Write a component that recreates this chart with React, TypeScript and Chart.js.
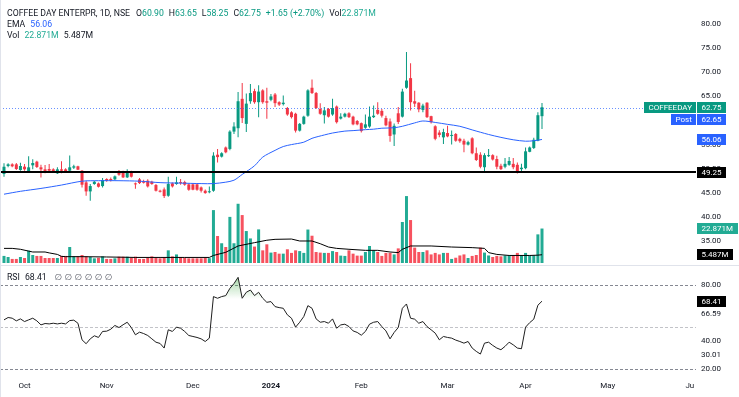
import React, { useEffect, useRef } from 'react';
import { Chart, registerables } from 'chart.js';

Chart.register(...registerables);

const FONT = 'Roboto, "Noto Sans", "DejaVu Sans", sans-serif';
const TEXT = '#131722';
const UP = '#089981';
const DOWN = '#f23645';
const VOL_UP = '#22ab94';
const VOL_DOWN = '#f7525f';
const EMA_COLOR = '#2962ff';
const POST_COLOR = '#2962ff';

// ---------- data ----------
const opens = [48.9,50.56,50.9,50.9,49.72,50.42,49.44,50.69,51.46,50.28,49.86,49.93,49.86,49.03,49.86,49.86,49.58,50.21,50.49,49.58,47.15,45.28,46.81,46.94,46.39,47.85,47.85,47.78,49.17,49.24,48.19,49.24,46.88,47.78,47.43,47.5,47.29,46.6,45.42,45.69,44.38,46.94,46.81,47.15,47.22,46.74,46.74,46.74,46.11,45.42,45.1,45.42,52.9,52.5,54.4,54.1,57.7,58.4,64.5,59.3,64.0,66.1,63.8,66.25,64.0,64.3,65.4,63.8,63.4,62.6,61.7,61.4,57.9,59.3,61.0,66.8,65.7,62.4,61.1,62.4,61.25,62.9,60.4,60.8,61.5,60.8,59.9,59.45,58.5,58.75,60.7,62.2,62.0,60.5,59.8,57.1,61.5,60.8,66.8,68.8,64.0,63.7,62.2,63.7,60.9,58.8,57.5,56.5,57.4,56.8,57.2,56.2,55.8,55.0,56.3,53.2,52.9,50.3,52.6,52.8,52.0,50.6,50.4,50.8,51.0,50.8,49.9,50.1,53.5,54.3,55.8,60.9];
const highs = [51.1,51.11,51.11,51.2,51.25,50.97,52.57,51.94,51.67,50.83,50.76,50.97,50.1,50.28,51.53,50.1,52.71,50.83,50.62,49.72,47.5,46.81,47.5,47.15,48.06,48.0,48.19,48.6,49.72,49.58,49.86,49.58,47.15,48.06,47.71,47.78,47.5,46.81,45.63,46.11,48.33,47.15,48.33,47.85,47.5,46.94,46.9,46.94,46.32,45.7,46.3,53.4,54.1,53.4,54.6,58.0,59.65,65.9,67.8,65.6,67.6,66.6,67.3,66.5,66.8,65.5,65.7,64.0,65.2,62.8,61.9,61.6,59.5,61.0,66.5,68.5,65.9,63.6,62.8,62.6,64.5,63.1,61.5,61.6,61.7,61.0,60.1,59.6,61.25,62.9,63.1,63.8,62.4,61.0,60.4,59.4,62.8,66.6,74.2,71.9,66.2,63.8,63.5,63.8,61.0,59.0,58.0,58.3,58.9,57.9,57.4,56.4,56.2,55.8,56.5,54.4,53.4,53.2,54.1,53.0,52.7,51.0,52.2,52.4,52.2,51.3,51.0,54.4,54.6,56.4,61.7,63.65];
const lows = [48.3,50.28,50.28,49.7,49.58,49.58,49.37,49.86,50.14,48.19,49.03,49.24,49.3,48.89,49.03,49.3,49.5,49.93,49.72,46.11,44.37,43.33,46.67,46.11,46.11,47.3,47.36,47.6,48.54,48.06,48.06,48.19,45.83,46.81,46.94,46.11,46.67,45.28,45.07,43.89,44.17,46.11,46.67,46.67,46.46,45.42,45.5,45.42,45.07,44.8,44.9,45.2,51.3,52.3,53.2,53.8,57.2,56.5,59.5,57.6,63.5,63.5,60.7,63.5,60.35,64.0,62.8,63.0,63.1,61.0,60.4,57.5,57.7,59.1,60.8,65.5,62.4,61.2,59.4,60.6,61.0,59.4,60.2,60.6,60.5,59.0,59.0,57.5,58.3,58.5,60.5,61.2,60.6,58.8,55.6,54.7,59.3,60.6,66.6,62.1,62.8,61.7,61.7,60.5,59.4,55.9,56.5,55.1,56.5,55.0,55.6,55.4,53.4,54.8,53.0,51.6,50.1,49.2,52.4,51.7,49.9,49.7,50.1,50.6,49.9,49.0,49.2,49.9,53.4,54.1,55.7,58.25];
const closes = [50.4,50.9,50.49,49.93,50.56,49.86,50.28,51.18,50.35,49.86,49.44,49.58,49.44,49.86,49.58,49.51,50.28,50.49,49.79,46.67,45.28,46.39,47.29,46.25,47.64,47.5,47.64,48.4,48.75,48.19,49.44,48.33,46.74,47.01,47.08,46.32,46.81,45.42,45.21,44.31,46.81,46.32,47.15,47.01,46.67,45.63,45.63,45.63,45.42,44.93,45.3,52.71,52.4,53.2,53.4,57.7,58.75,64.0,60.5,63.5,65.7,63.8,66.0,63.8,63.7,65.0,63.6,63.3,63.7,61.25,60.7,57.9,59.3,60.8,66.25,65.7,62.6,61.4,62.1,60.8,62.6,59.65,60.8,61.4,60.7,59.2,59.2,57.8,59.2,60.8,61.0,61.4,61.0,59.0,56.8,58.9,59.7,66.0,68.3,63.8,63.5,62.3,63.1,60.7,59.65,56.2,57.0,57.6,56.7,57.0,55.8,55.7,55.0,55.5,53.2,51.8,50.4,52.8,52.8,51.9,50.4,49.9,51.0,51.6,50.3,49.2,50.2,53.6,54.4,56.0,61.1,62.75];
// volume in millions
const volumes = [4.7,4.0,2.7,2.7,4.0,3.3,8.2,5.3,4.7,4.7,3.3,3.3,3.3,3.3,4.7,4.7,10.6,4.4,4.4,5.3,4.4,4.0,3.1,3.5,4.4,2.7,2.7,3.1,4.2,4.2,4.2,3.5,4.2,2.7,2.7,3.5,4.4,3.5,3.1,3.5,8.4,4.4,5.7,4.0,3.5,3.1,3.1,3.1,3.1,3.5,3.2,35.1,17.9,13.1,10.6,30.6,13.1,39.3,31.8,21.2,16.3,10.9,22.3,8.4,12.4,6.9,7.3,6.2,6.2,9.1,6.7,8.4,7.9,6.7,22.2,18.1,7.3,6.9,6.7,6.7,7.9,7.3,4.9,4.7,8.4,6.2,4.9,4.9,7.3,11.3,8.4,7.3,4.7,6.7,6.7,5.7,9.7,27.2,44.4,28.5,10.2,7.3,7.3,8.4,5.7,6.7,5.7,6.7,6.7,2.7,3.5,5.0,5.7,3.3,4.7,5.3,10.2,6.9,5.0,4.0,4.7,4.4,5.0,5.0,5.0,6.7,5.0,6.7,5.0,5.0,19.0,22.871];
const rsiValues = [55.0,56.7,56.2,54.3,55.7,53.8,55.0,56.2,54.3,51.4,52.4,52.1,52.6,52.1,52.6,52.1,54.5,54.8,52.6,40.7,37.9,41.4,43.6,42.4,46.7,46.9,48.3,51.0,49.5,51.5,53.3,49.5,44.3,46.2,45.2,43.8,41.4,39.0,38.1,34.8,47.9,46.7,49.8,49.0,46.7,43.8,43.1,42.4,41.4,39.5,41.9,71.7,70.5,71.7,72.4,77.6,81.0,85.5,70.5,74.8,76.4,72.4,74.8,70.5,67.6,68.1,64.5,63.8,63.3,58.6,56.2,49.8,53.3,57.4,65.2,63.3,55.7,53.3,53.8,52.6,55.7,49.0,51.4,51.9,50.2,47.1,46.0,44.0,46.7,51.9,53.3,53.8,50.2,47.1,41.4,46.0,49.5,63.3,66.4,56.2,55.5,52.6,53.8,50.2,47.9,45.5,40.7,43.1,42.4,41.9,40.5,39.5,38.3,39.5,34.8,32.4,30.5,38.3,39.0,36.7,34.8,33.6,36.0,39.0,37.1,34.8,34.3,49.8,53.0,55.5,65.5,68.41];
const emaIdx = [0,4,9,14,19,23,28,33,38,43,48,51,54,56,58,61,63,66,68,70,73,75,78,80,83,85,88,90,92,95,97,100,102,105,108,111,114,118,121,124,127,129,131];
const emaVal = [44.7,45.3,45.9,46.6,47.4,47.5,47.5,47.4,47.1,47.0,46.9,46.9,47.2,47.6,48.8,50.6,52.4,53.8,54.6,55.0,55.5,56.3,57.0,57.4,57.8,57.9,58.1,58.2,58.4,58.5,58.8,59.5,59.9,59.6,59.2,58.8,58.05,57.1,56.5,56.0,55.7,55.8,56.06];
const volMaIdx = [0,2,4,6,7,10,11,13,14,15,19,25,32,38,44,50,51,54,57,61,64,66,70,72,75,77,79,81,84,88,91,94,96,97,99,104,109,114,117,118,120,123,128,130,131];
const volMaVal = [9.7,9.7,9.1,7.9,7.3,7.3,6.7,5.7,4.4,4.2,4.2,4.0,3.7,3.7,3.7,3.7,5.0,7.1,11.3,13.5,15.1,15.7,15.9,14.6,14.6,12.8,10.6,9.7,9.1,8.4,8.4,7.3,6.9,9.1,11.3,11.3,10.6,10.2,9.7,6.9,5.7,5.0,5.0,5.2,5.487];
const monthTickIdx = [5, 25, 46, 65, 87, 108, 127, 147, 167];
const monthTickLabels = ['Oct', 'Nov', 'Dec', '2024', 'Feb', 'Mar', 'Apr', 'May', 'Ju'];
const priceTicks = [35, 40, 45, 50, 55, 60, 65, 70, 75, 80];
const rsiTicks = [20, 40, 80];
const rsiLevels = [80, 50, 20];
const symbolName = 'COFFEEDAY';
const postPrice = 62.65;
const levelPrice = 49.25;
const rsiMaValue = 66.59;
const rsiLowValue = 30.01;

// ---------- layout constants ----------
const W = 739;
const MAIN_H = 265;
const RSI_H = 132;
const AXIS_W = 43;
const TIME_H = 25;
const X_MIN = -0.974;
const X_MAX = 168.5;
const PRICE_MIN = 30;
const PRICE_MAX = 85.02;
const VOL_MIN = -1.327;
const VOL_MAX = 174.5;
const RSI_MIN = 17.63;
const RSI_MAX = 94.34;
const HEAD_FONT_PX = 8.7;

const N = closes.length;
const last = N - 1;
const candleColors = closes.map((c, i) => (c >= opens[i] ? UP : DOWN));
const volColors = closes.map((c, i) => (c >= opens[i] ? VOL_UP : VOL_DOWN));
const fmtM = (v: number) => v.toFixed(3) + 'M';

function drawBox(ctx: CanvasRenderingContext2D, x: number, yc: number, text: string, bg: string, side: 'left' | 'right') {
  const w = Math.round(ctx.measureText(text).width + 9);
  const h = 11;
  const left = side === 'left' ? x : x - w;
  const top = Math.round(yc - h / 2);
  ctx.fillStyle = bg;
  ctx.fillRect(left, top, w, h);
  ctx.fillStyle = '#ffffff';
  ctx.textAlign = 'left';
  ctx.textBaseline = 'middle';
  ctx.fillText(text, left + 4.5, top + h / 2 + 0.5);
  return { top, bottom: top + h };
}

const fitRight = (scale: any) => {
  scale.width = AXIS_W;
  scale.paddingTop = 0;
  scale.paddingBottom = 0;
};

const mainPlugin = {
  id: 'mainOverlay',
  afterDatasetsDraw(chart: any) {
    const { ctx, chartArea: a, scales } = chart;
    const y = scales.y;
    ctx.save();
    ctx.beginPath();
    ctx.rect(a.left, a.top, a.right - a.left, a.bottom - a.top);
    ctx.clip();
    const yp = Math.round(y.getPixelForValue(postPrice)) + 0.5;
    ctx.setLineDash([1, 2]);
    ctx.strokeStyle = 'rgba(41,98,255,0.7)';
    ctx.lineWidth = 1;
    ctx.beginPath();
    ctx.moveTo(a.left, yp);
    ctx.lineTo(a.right, yp);
    ctx.stroke();
    ctx.setLineDash([]);
    ctx.strokeStyle = '#000000';
    ctx.lineWidth = 2;
    const yl = Math.round(y.getPixelForValue(levelPrice));
    ctx.beginPath();
    ctx.moveTo(a.left, yl);
    ctx.lineTo(a.right, yl);
    ctx.stroke();
    ctx.restore();
  },
  afterDraw(chart: any) {
    const { ctx, chartArea: a, scales } = chart;
    const y = scales.y;
    const yv = scales.yv;
    ctx.save();
    ctx.font = `8px ${FONT}`;
    const r = a.right;
    const yc = y.getPixelForValue(closes[last]) + 0.5;
    drawBox(ctx, r + 1, yc, closes[last].toFixed(2), UP, 'left');
    drawBox(ctx, r, yc, symbolName, UP, 'right');
    drawBox(ctx, r + 1, yc + 11.5, postPrice.toFixed(2), POST_COLOR, 'left');
    drawBox(ctx, r, yc + 11.5, 'Post', POST_COLOR, 'right');
    drawBox(ctx, r + 1, y.getPixelForValue(emaVal[emaVal.length - 1]), emaVal[emaVal.length - 1].toFixed(2), EMA_COLOR, 'left');
    drawBox(ctx, r + 1, y.getPixelForValue(levelPrice), levelPrice.toFixed(2), '#000000', 'left');
    drawBox(ctx, r + 1, yv.getPixelForValue(volumes[last]), fmtM(volumes[last]), VOL_UP, 'left');
    drawBox(ctx, r + 1, yv.getPixelForValue(volMaVal[volMaVal.length - 1]), fmtM(volMaVal[volMaVal.length - 1]), '#000000', 'left');
    ctx.strokeStyle = '#e0e3eb';
    ctx.lineWidth = 1;
    ctx.beginPath();
    ctx.moveTo(0.5, 0);
    ctx.lineTo(0.5, chart.height);
    ctx.stroke();
    ctx.restore();
  },
};

const rsiPlugin = {
  id: 'rsiOverlay',
  beforeDatasetsDraw(chart: any) {
    const { ctx, chartArea: a, scales } = chart;
    const y = scales.y;
    ctx.save();
    ctx.lineWidth = 1;
    ctx.setLineDash([3, 2]);
    rsiLevels.forEach((lv) => {
      ctx.strokeStyle = lv === 50 ? 'rgba(120,123,134,0.45)' : 'rgba(120,123,134,0.9)';
      const py = Math.round(y.getPixelForValue(lv)) + 0.5;
      ctx.beginPath();
      ctx.moveTo(a.left, py);
      ctx.lineTo(a.right, py);
      ctx.stroke();
    });
    ctx.restore();
  },
  afterDraw(chart: any) {
    const { ctx, chartArea: a, scales } = chart;
    const y = scales.y;
    ctx.save();
    ctx.font = `8px ${FONT}`;
    const b = drawBox(ctx, a.right + 1, y.getPixelForValue(rsiValues[last]), rsiValues[last].toFixed(2), '#000000', 'left');
    ctx.fillStyle = TEXT;
    ctx.textAlign = 'left';
    ctx.textBaseline = 'middle';
    ctx.fillText(rsiMaValue.toFixed(2), a.right + 5, b.bottom + 6.5);
    ctx.fillText(rsiLowValue.toFixed(2), a.right + 5, y.getPixelForValue(rsiLowValue));
    ctx.strokeStyle = '#e0e3eb';
    ctx.lineWidth = 1;
    ctx.beginPath();
    ctx.moveTo(0, 0.5);
    ctx.lineTo(W, 0.5);
    ctx.moveTo(0.5, 0);
    ctx.lineTo(0.5, chart.height);
    ctx.stroke();
    ctx.restore();
  },
};

export default function App() {
  const mainRef = useRef<HTMLCanvasElement | null>(null);
  const rsiRef = useRef<HTMLCanvasElement | null>(null);

  useEffect(() => {
    Chart.defaults.font.family = FONT;
    Chart.defaults.font.size = 8;
    const idx = closes.map((_, i) => i);
    const bodyData = idx.map((i) => ({ x: i, y: [opens[i], closes[i]] }));
    const wickData = idx.map((i) => ({ x: i, y: [lows[i], highs[i]] }));
    const volData = idx.map((i) => ({ x: i, y: volumes[i] }));
    const emaData = emaIdx.map((i, k) => ({ x: i, y: emaVal[k] }));
    const volMaData = volMaIdx.map((i, k) => ({ x: i, y: volMaVal[k] }));
    const rsiData = idx.map((i) => ({ x: i, y: rsiValues[i] }));

    const main = new Chart(mainRef.current as HTMLCanvasElement, {
      type: 'bar',
      data: {
        datasets: [
          { type: 'bar', data: volData as any, yAxisID: 'yv', backgroundColor: volColors, barThickness: 3, grouped: false, borderWidth: 0, inflateAmount: 0, order: 6 } as any,
          { type: 'line', data: volMaData as any, yAxisID: 'yv', borderColor: '#000000', borderWidth: 1, pointRadius: 0, tension: 0, order: 5 } as any,
          { type: 'bar', data: wickData as any, yAxisID: 'y', backgroundColor: candleColors, barThickness: 1, grouped: false, borderWidth: 0, inflateAmount: 0, order: 2 } as any,
          { type: 'bar', data: bodyData as any, yAxisID: 'y', backgroundColor: candleColors, barThickness: 3, minBarLength: 1, grouped: false, borderWidth: 0, inflateAmount: 0, order: 1 } as any,
          { type: 'line', data: emaData as any, yAxisID: 'y', borderColor: EMA_COLOR, borderWidth: 1, pointRadius: 0, tension: 0.3, order: 0 } as any,
        ],
      },
      options: {
        responsive: false,
        animation: false,
        devicePixelRatio: 1,
        events: [],
        layout: { padding: 0 },
        plugins: { legend: { display: false }, tooltip: { enabled: false } },
        scales: {
          x: { type: 'linear', min: X_MIN, max: X_MAX, offset: false, display: false, grid: { display: false } },
          y: {
            type: 'linear', position: 'right', min: PRICE_MIN, max: PRICE_MAX,
            grid: { display: false, drawTicks: false }, border: { display: false },
            ticks: { color: TEXT, padding: 5, font: { family: FONT, size: 8 }, callback: (v: any) => Number(v).toFixed(2) },
            afterBuildTicks: (s: any) => { s.ticks = priceTicks.map((v) => ({ value: v })); },
            afterFit: fitRight,
          },
          yv: { type: 'linear', position: 'right', display: false, min: VOL_MIN, max: VOL_MAX },
        },
      } as any,
      plugins: [mainPlugin],
    });

    const rsiChart = new Chart(rsiRef.current as HTMLCanvasElement, {
      type: 'line',
      data: {
        datasets: [
          {
            data: rsiData as any,
            borderColor: '#1e1e1e',
            borderWidth: 1,
            pointRadius: 0,
            tension: 0,
            fill: { target: { value: 70 }, below: 'rgba(0,0,0,0)' },
            backgroundColor: (c: any) => {
              const ch = c.chart;
              const area = ch.chartArea;
              if (!area || !ch.scales.y) return 'rgba(0,0,0,0)';
              const y100 = ch.scales.y.getPixelForValue(100);
              const y70 = ch.scales.y.getPixelForValue(70);
              const g = ch.ctx.createLinearGradient(0, y100, 0, y70);
              g.addColorStop(0, 'rgba(76,175,80,0.95)');
              g.addColorStop(1, 'rgba(76,175,80,0)');
              return g;
            },
          } as any,
        ],
      },
      options: {
        responsive: false,
        animation: false,
        devicePixelRatio: 1,
        events: [],
        layout: { padding: 0 },
        plugins: { legend: { display: false }, tooltip: { enabled: false } },
        scales: {
          x: {
            type: 'linear', min: X_MIN, max: X_MAX, offset: false, position: 'bottom',
            grid: { display: false, drawTicks: false }, border: { display: false },
            ticks: {
              autoSkip: false, maxRotation: 0, padding: 9, color: TEXT,
              font: (c: any) => ({ family: FONT, size: 8, weight: c.tick && c.tick.value === 65 ? 'bold' : 'normal' }),
              callback: (v: any) => { const k = monthTickIdx.indexOf(Number(v)); return k >= 0 ? monthTickLabels[k] : ''; },
            },
            afterBuildTicks: (s: any) => { s.ticks = monthTickIdx.map((v) => ({ value: v })); },
            afterFit: (s: any) => { s.height = TIME_H; s.paddingLeft = 0; s.paddingRight = 0; },
          },
          y: {
            type: 'linear', position: 'right', min: RSI_MIN, max: RSI_MAX,
            grid: { display: false, drawTicks: false }, border: { display: false },
            ticks: { color: TEXT, padding: 5, font: { family: FONT, size: 8 }, callback: (v: any) => Number(v).toFixed(2) },
            afterBuildTicks: (s: any) => { s.ticks = rsiTicks.map((v) => ({ value: v })); },
            afterFit: fitRight,
          },
        },
      } as any,
      plugins: [rsiPlugin],
    });

    return () => {
      main.destroy();
      rsiChart.destroy();
    };
  }, []);

  const o = opens[last], h = highs[last], l = lows[last], c = closes[last];
  const chg = c - closes[last - 1];
  const pct = (chg / closes[last - 1]) * 100;
  const sign = chg >= 0 ? '+' : '';
  const headStyle: React.CSSProperties = { position: 'absolute', left: 7, font: `${HEAD_FONT_PX}px ${FONT}`, lineHeight: '11px', color: TEXT, whiteSpace: 'nowrap', pointerEvents: 'none' };
  const gap = { marginLeft: 5 };

  return (
    <div style={{ position: 'fixed', left: 0, top: 0, width: W, height: MAIN_H + RSI_H, background: '#ffffff', overflow: 'hidden' }}>
      <canvas ref={mainRef} width={W} height={MAIN_H} style={{ position: 'absolute', left: 0, top: 0, width: W, height: MAIN_H, display: 'block' }} />
      <canvas ref={rsiRef} width={W} height={RSI_H} style={{ position: 'absolute', left: 0, top: MAIN_H, width: W, height: RSI_H, display: 'block' }} />
      <div style={{ ...headStyle, top: 8.2 }}>
        <div>
          <span>COFFEE DAY ENTERPR, 1D, NSE</span>
          <span style={{ marginLeft: 6 }}>O<span style={{ color: UP }}>{o.toFixed(2)}</span></span>
          <span style={gap}>H<span style={{ color: UP }}>{h.toFixed(2)}</span></span>
          <span style={gap}>L<span style={{ color: UP }}>{l.toFixed(2)}</span></span>
          <span style={gap}>C<span style={{ color: UP }}>{c.toFixed(2)}</span></span>
          <span style={{ ...gap, color: UP }}>{sign}{chg.toFixed(2)} ({sign}{pct.toFixed(2)}%)</span>
          <span style={gap}>Vol<span style={{ color: VOL_UP }}>{fmtM(volumes[last])}</span></span>
        </div>
        <div>
          <span>EMA</span>
          <span style={{ marginLeft: 5, color: EMA_COLOR }}>{emaVal[emaVal.length - 1].toFixed(2)}</span>
        </div>
        <div>
          <span>Vol</span>
          <span style={{ marginLeft: 5, color: VOL_UP }}>{fmtM(volumes[last])}</span>
          <span style={{ marginLeft: 5 }}>{fmtM(volMaVal[volMaVal.length - 1])}</span>
        </div>
      </div>
      <div style={{ ...headStyle, top: 271.5 }}>
        <span>RSI</span>
        <span style={{ marginLeft: 5 }}>{rsiValues[last].toFixed(2)}</span>
        {[0, 1, 2, 3, 4, 5].map((k) => (
          <span key={k} style={{ marginLeft: k === 0 ? 8 : 2.5, color: '#50535e' }}>∅</span>
        ))}
      </div>
    </div>
  );
}
